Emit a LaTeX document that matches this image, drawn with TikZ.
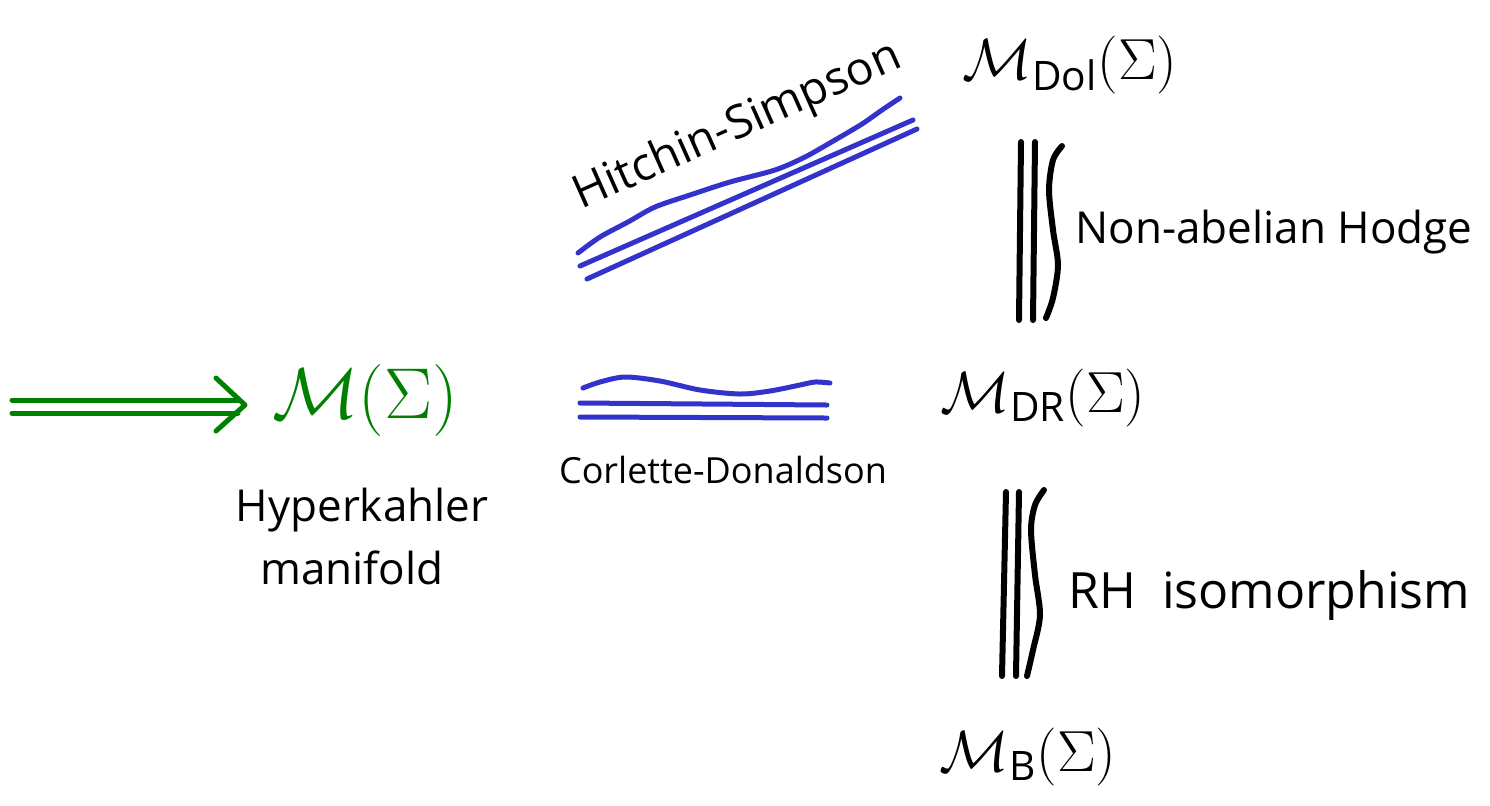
\RequirePackage{fix-cm}
\documentclass[tikz,border=0pt]{standalone}
\usepackage{fontspec}
\setmainfont{Open Sans}
\usetikzlibrary{arrows.meta,calc}
\definecolor{hgreen}{RGB}{0,128,0}
\definecolor{hblue}{RGB}{51,51,204}
\tikzset{
  lbl/.style={inner sep=0pt, font=\fontsize{21}{24}\selectfont},
  mth/.style={inner sep=0pt, font=\fontsize{29}{33}\selectfont},
  bline/.style={hblue, line width=2.5pt, line cap=round, line join=round},
  kline/.style={black, line width=3pt, line cap=round, line join=round},
  gline/.style={hgreen, line width=2.5pt, line cap=round, line join=round},
}
\begin{document}
\begin{tikzpicture}[x=0.5pt,y=-0.5pt]
\useasboundingbox (0,0) rectangle (1490,805);
% green
\node[mth, text=hgreen, font=\fontsize{36}{40}\selectfont] (M) at (365,400) {$\mathcal{M}(\Sigma)$};
\node[lbl, font=\fontsize{22}{26}\selectfont] (hk) at (362,510) {Hyperkahler};
\node[lbl, font=\fontsize{22}{26}\selectfont] (mf) at (352,568) {manifold};
\coordinate (src) at (12,406);
\coordinate (tip) at (245,405);
\draw[gline] (src) ++(0,-6) -- ($(tip)+(-7,-5)$);
\draw[gline] (src) ++(0,7) -- ($(tip)+(-7,8)$);
\draw[gline] ($(tip)+(-29,-27)$) -- (tip) -- ($(tip)+(-29,26)$);
% right column
\node[mth] (Dol) at (1070,65) {$\mathcal{M}_{\mathrm{Dol}}(\Sigma)$};
\node[mth] (DR) at (1043,398) {$\mathcal{M}_{\mathrm{DR}}(\Sigma)$};
\node[mth] (B) at (1028,757) {$\mathcal{M}_{\mathrm{B}}(\Sigma)$};
% triple lines 1
\draw[kline] (1021,142) -- (1019,320);
\draw[kline] (1035,142) -- (1033,320);
\draw[kline] plot[smooth] coordinates {(1062,146) (1053,160) (1049,190) (1053,230) (1058,265) (1053,298) (1046,318)};
\node[lbl, anchor=west, font=\fontsize{22}{26}\selectfont] (nah) at (1075,232) {Non-abelian Hodge};
% triple lines 2
\draw[kline] (1006,492) -- (1002,676);
\draw[kline] (1019,492) -- (1016,676);
\draw[kline] plot[smooth] coordinates {(1044,490) (1035,505) (1031,530) (1035,575) (1040,615) (1033,650) (1027,676)};
\node[lbl, anchor=west, font=\fontsize{25}{29}\selectfont] (rh) at (1068,595) {RH\ \ isomorphism};
% Hitchin-Simpson
\draw[bline] plot[smooth] coordinates {(578,253) (600,237) (628,222) (655,207) (690,195) (730,182) (775,170) (805,157) (835,140) (862,124) (882,110) (900,98)};
\draw[bline] (580,266) -- (913,120);
\draw[bline] (587,279) -- (917,129);
\node[lbl, rotate=24, font=\fontsize{23}{27}\selectfont] (hs) at (738,127) {Hitchin-Simpson};
% Corlette-Donaldson
\draw[bline] plot[smooth] coordinates {(583,388) (600,382) (625,377) (660,381) (700,390) (740,394) (770,391) (800,385) (815,382) (830,383)};
\draw[bline] (580,403) -- (827,405);
\draw[bline] (580,417) -- (827,418);
\node[lbl, font=\fontsize{18}{22}\selectfont] (cd) at (723,470) {Corlette-Donaldson};
\end{tikzpicture}
\end{document}
